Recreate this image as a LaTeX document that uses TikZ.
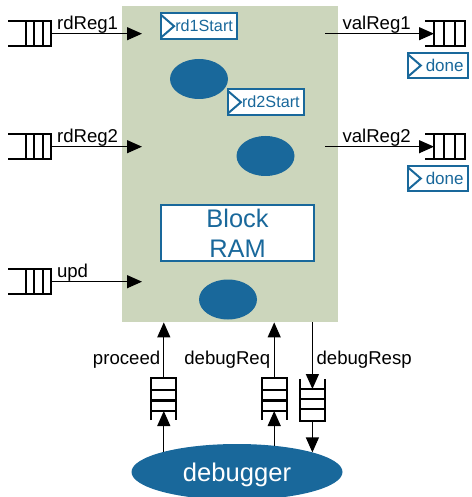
\documentclass[tikz,border=0pt]{standalone}
\usepackage{fontspec}
\setmainfont{Liberation Sans}
\usetikzlibrary{positioning,shapes.geometric,arrows.meta}
\definecolor{ramblue}{RGB}{25,104,155}
\definecolor{fsmgreen}{RGB}{204,214,188}
\tikzset{
  startbox/.style={draw=ramblue,line width=1pt,fill=white,text=ramblue,
    font=\fontsize{8.1}{10}\selectfont,minimum height=12.85pt,inner ysep=0pt,
    inner xsep=2.2pt,text width=#1,align=right,
    path picture={\draw[ramblue,line width=1pt]
      ([yshift=-0.8pt]path picture bounding box.north west) --
      ([xshift=6.5pt]path picture bounding box.west) --
      ([yshift=0.8pt]path picture bounding box.south west);}}
}

\begin{document}
\begin{tikzpicture}[x=0.5pt,y=-0.5pt]
 \useasboundingbox (0,0) rectangle (471,497);
 \clip (0,0) rectangle (471,497);
 \tikzstyle{fifo} = [line width=1.1pt]
 \tikzstyle{wire} = [line width=0.6pt,-{Triangle[length=7.5pt,width=6.5pt]}]
 \tikzstyle{lbl} = [inner sep=0pt,font=\fontsize{9.3}{11}\selectfont]
 \tikzstyle{blob} = [ellipse,fill=ramblue,inner sep=0pt,minimum width=29pt,minimum height=20pt]
 % the state machine and what sits in it
 \node[fill=fsmgreen,minimum width=108pt,minimum height=158pt,inner sep=0pt] (fsm) at (230,164) {};
 \node[startbox=33.7pt] (rd1s) at (199.2,26.2) {rd1Start};
 \node[startbox=33.7pt] (rd2s) at (266,102.2) {rd2Start};
 \node[blob] (s1) at (199,79) {};
 \node[blob] (s2) at (265.5,156) {};
 \node[blob] (s3) at (228,299.5) {};
 \node[draw=ramblue,line width=1pt,fill=white,text=ramblue,align=center,inner sep=0pt,
   minimum width=76.5pt,minimum height=28pt,font=\fontsize{12.7}{15.2}\selectfont] (bram) at (237.5,233) {Block\\RAM};
 \node[blob,minimum width=105.5pt,minimum height=28pt,text=white,text depth=0pt,
   font=\fontsize{12.8}{15}\selectfont] (dbg) at (237,472) {debugger};

 % input queues
 \foreach \y/\q/\t in {33.7/rd1q/rd1in, 146.7/rd2q/rd2in, 281.7/updq/updin} {
   \draw[fifo] (8,\y-12.5) -- (51,\y-12.5) -- (51,\y+12.5) -- (8,\y+12.5);
   \foreach \x in {26,34.3,42.6} \draw[fifo] (\x,\y-12.5) -- (\x,\y+12.5);
   \coordinate (\q) at (51,\y);
   \coordinate (\t) at (142,\y);
 }
 \draw[wire] (rd1q) -- node[lbl,anchor=south west,pos=0.06]{rdReg1} (rd1in);
 \draw[wire] (rd2q) -- node[lbl,anchor=south west,pos=0.06]{rdReg2} (rd2in);
 \draw[wire] (updq) -- node[lbl,anchor=south west,pos=0.06]{upd} (updin);

 % output queues
 \foreach \y/\q/\s in {33.7/val1q/val1s, 146.7/val2q/val2s} {
   \draw[fifo] (425,\y-12.3) -- (465,\y-12.3) -- (465,\y+12.3) -- (425,\y+12.3);
   \foreach \x in {434,444.3,454.6} \draw[fifo] (\x,\y-12.3) -- (\x,\y+12.3);
   \coordinate (\q) at (434,\y);
   \coordinate (\s) at (325,\y);
 }
 \node[startbox=25.7pt,font=\fontsize{8.5}{10}\selectfont] (done1) at (437.9,65.5) {done};
 \node[startbox=25.7pt,font=\fontsize{8.5}{10}\selectfont] (done2) at (437.9,178.5) {done};
 \draw[wire] (val1s) -- node[lbl,anchor=south west,pos=0.155]{valReg1} (val1q);
 \draw[wire] (val2s) -- node[lbl,anchor=south west,pos=0.155]{valReg2} (val2q);

 % debugger queues
 \foreach \x/\q/\i in {163.8/procq/procin, 274.2/reqq/reqin} {
   \draw[fifo] (\x-12.5,420) -- (\x-12.5,378.3) -- (\x+12.5,378.3) -- (\x+12.5,420);
   \foreach \b in {390,400.5,411} \draw[fifo] (\x-12.5,\b) -- (\x+12.5,\b);
   \coordinate (\q) at (\x,378.3);
   \coordinate (\i) at (\x,411);
 }
 \draw[fifo] (299.9,379) -- (299.9,420.7) -- (324.9,420.7) -- (324.9,379);
 \foreach \b in {389,399,409} \draw[fifo] (299.9,\b) -- (324.9,\b);
 \coordinate (respin) at (312.4,389);
 \coordinate (respq) at (312.4,420.7);

 \coordinate (dbg1) at (163.8,451.8);
 \coordinate (dbg2) at (274.2,445.8);
 \coordinate (dbg3) at (312.4,452.4);

 \draw[wire] (dbg1) -- (procin);
 \draw[wire] (procq) -- node[lbl,anchor=base east,pos=0.25,xshift=-1.5pt]{proceed} (procq |- fsm.south);
 \draw[wire] (dbg2) -- (reqin);
 \draw[wire] (reqq) -- node[lbl,anchor=base east,pos=0.25,xshift=-1.7pt]{debugReq} (reqq |- fsm.south);
 \draw[wire] (respq |- fsm.south) -- node[lbl,anchor=base west,pos=0.63,xshift=1.8pt]{debugResp} (respin);
 \draw[wire] (respq) -- (dbg3);
\end{tikzpicture}
\end{document}
